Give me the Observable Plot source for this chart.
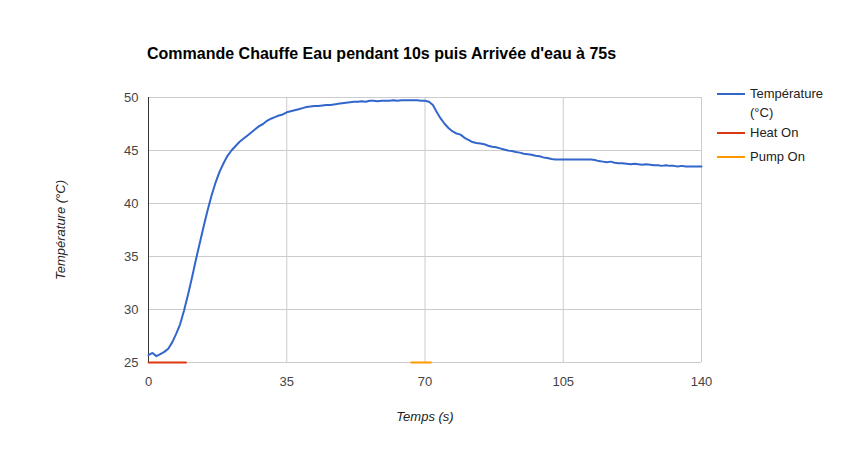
<!DOCTYPE html>
<html>
<head>
<meta charset="utf-8">
<script src="https://cdn.jsdelivr.net/npm/d3@7"></script>
<script src="https://cdn.jsdelivr.net/npm/@observablehq/plot@0.6"></script>
<style>
  html, body { margin: 0; padding: 0; background: #fff; }
  #wrap { position: relative; width: 848px; height: 450px; font-family: "Liberation Sans", Arial, sans-serif; }
  #wrap svg { position: absolute; left: 0; top: 0; }
  .title { position: absolute; left: 147px; top: 45px; font-size: 16px; font-weight: bold; color: #000; white-space: nowrap; }
  .xlab { position: absolute; left: 0; width: 850px; top: 409px; text-align: center; font-size: 13px; font-style: italic; color: #222; }
  .ylab { position: absolute; left: 60px; top: 230px; font-size: 13px; font-style: italic; color: #222; white-space: nowrap; transform: translate(-50%, -50%) rotate(-90deg); }
  .leg { position: absolute; font-size: 13px; color: #222; line-height: 19px; }
  .sw { position: absolute; width: 28px; height: 2px; }
</style>
</head>
<body>
<div id="wrap">
  <div class="title">Commande Chauffe Eau pendant 10s puis Arrivée d'eau à 75s</div>
  <div class="xlab">Temps (s)</div>
  <div class="ylab">Température (°C)</div>
  <div class="sw" style="left:717px;top:93px;background:#3366cc"></div>
  <div class="leg" style="left:750px;top:84px;">Température<br>(°C)</div>
  <div class="sw" style="left:717px;top:132px;background:#dc3912"></div>
  <div class="leg" style="left:750px;top:123px;">Heat On</div>
  <div class="sw" style="left:717px;top:156px;background:#ff9900"></div>
  <div class="leg" style="left:750px;top:147px;">Pump On</div>
</div>
<script>
// Temperature (°C) sampled every second, t = 0 .. 140 s
const temperature = [
  25.7, 25.9, 25.6, 25.8, 26.0, 26.3, 26.9, 27.7, 28.6, 29.9,
  31.4, 33.0, 34.7, 36.3, 37.9, 39.4, 40.8, 42.0, 43.0, 43.8,
  44.5, 45.0, 45.4, 45.8, 46.1, 46.4, 46.7, 47.0, 47.3, 47.5,
  47.8, 48.0, 48.15, 48.3, 48.4, 48.6, 48.7, 48.8, 48.9, 49.0,
  49.1, 49.15, 49.2, 49.2, 49.25, 49.3, 49.3, 49.35, 49.4, 49.45,
  49.5, 49.55, 49.6, 49.6, 49.65, 49.6, 49.7, 49.7, 49.65, 49.7,
  49.7, 49.7, 49.75, 49.7, 49.75, 49.75, 49.75, 49.75, 49.75, 49.7,
  49.7, 49.6, 49.3, 48.6, 48.0, 47.5, 47.1, 46.8, 46.6, 46.5,
  46.2, 46.0, 45.8, 45.7, 45.65, 45.6, 45.45, 45.35, 45.3, 45.2,
  45.1, 45.0, 44.95, 44.85, 44.8, 44.7, 44.65, 44.6, 44.5, 44.45,
  44.35, 44.3, 44.2, 44.15, 44.15, 44.15, 44.15, 44.15, 44.15, 44.15,
  44.15, 44.15, 44.15, 44.1, 44.0, 43.95, 43.9, 43.95, 43.85, 43.8,
  43.8, 43.75, 43.7, 43.75, 43.7, 43.65, 43.7, 43.65, 43.6, 43.6,
  43.55, 43.6, 43.55, 43.55, 43.5, 43.55, 43.5, 43.5, 43.5, 43.5,
  43.5
];
const heatOn = [{t: 0, v: 25}, {t: 9.5, v: 25}];
const pumpOn = [{t: 66.5, v: 25}, {t: 71.5, v: 25}];
const xTicks = [0, 35, 70, 105, 140];
const yTicks = [25, 30, 35, 40, 45, 50];

const tempData = temperature.map((v, i) => ({t: i, v}));

const chart = Plot.plot({
  width: 848,
  height: 450,
  marginLeft: 148,
  marginRight: 147,
  marginTop: 97,
  marginBottom: 88,
  style: {fontFamily: "'Liberation Sans', Arial, sans-serif", fontSize: "13px", color: "#444", background: "transparent"},
  x: {domain: [0, 140]},
  y: {domain: [25, 50]},
  marks: [
    Plot.gridX(xTicks, {stroke: "#cccccc", strokeOpacity: 1}),
    Plot.gridY(yTicks, {stroke: "#cccccc", strokeOpacity: 1}),
    Plot.axisX(xTicks, {tickSize: 0, tickPadding: 14, label: null, fill: "#444", fontSize: 13}),
    Plot.axisY(yTicks, {tickSize: 0, tickPadding: 10, label: null, fill: "#444", fontSize: 13}),
    Plot.ruleX([0], {stroke: "#333", strokeWidth: 1}),
    Plot.line(heatOn, {x: "t", y: "v", stroke: "#dc3912", strokeWidth: 2}),
    Plot.line(pumpOn, {x: "t", y: "v", stroke: "#ff9900", strokeWidth: 2}),
    Plot.line(tempData, {x: "t", y: "v", stroke: "#3366cc", strokeWidth: 2})
  ]
});
document.getElementById("wrap").appendChild(chart);
</script>
</body>
</html>
